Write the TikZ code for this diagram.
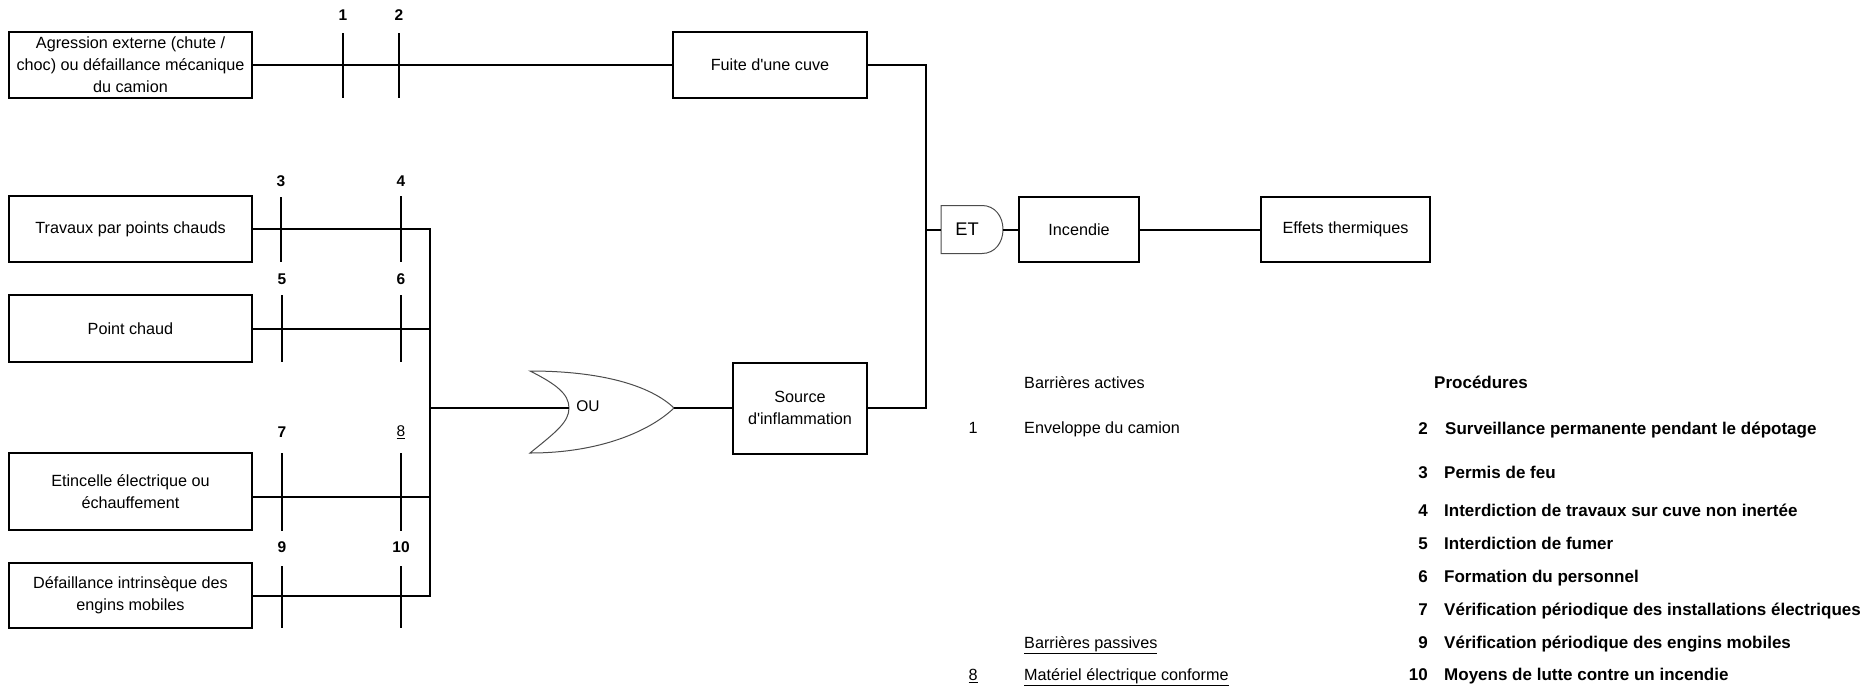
\documentclass[tikz,border=0pt]{standalone}
\usepackage{fontspec}
\setmainfont{Liberation Sans}[Ligatures=TeXOff]
\begin{document}
\begin{tikzpicture}[x=1pt,y=-1pt]
\tikzset{
 base/.style={font=\fontsize{16.2}{22}\selectfont, text=black},
 evbox/.style={base, draw, line width=2pt, rectangle, inner sep=0pt, align=center, fill=white},
 wire/.style={line width=2pt},
 tickline/.style={line width=2pt},
 gate/.style={draw=black!70, line width=1pt, fill=white},
 num/.style={font=\fontsize{15.5}{18}\bfseries\selectfont, inner sep=0pt},
 numr/.style={font=\fontsize{15.5}{18}\selectfont, inner sep=0pt},
 leg/.style={base, anchor=mid west, inner sep=0pt},
 legn/.style={base, anchor=mid, inner sep=0pt},
 legb/.style={font=\fontsize{17}{20}\bfseries\selectfont, anchor=mid west, inner sep=0pt},
 legbn/.style={font=\fontsize{17}{20}\bfseries\selectfont, anchor=mid east, inner sep=0pt},
}
\useasboundingbox (0,0) rectangle (1867,691);

% event boxes
\node[evbox, minimum width=243, minimum height=66] (agr) at (130.5,65) {Agression externe (chute /\\choc) ou défaillance mécanique\\du camion};
\node[evbox, minimum width=194, minimum height=66] (fuite) at (770,65) {Fuite d'une cuve};
\node[evbox, minimum width=243, minimum height=66] (trav) at (130.5,229) {Travaux par points chauds};
\node[evbox, minimum width=243, minimum height=67] (pc) at (130.5,328.5) {Point chaud};
\node[evbox, minimum width=243, minimum height=77] (etin) at (130.5,491.5) {Etincelle électrique ou\\échauffement};
\node[evbox, minimum width=243, minimum height=65] (def) at (130.5,595.5) {Défaillance intrinsèque des\\engins mobiles};
\node[evbox, minimum width=134, minimum height=91] (src) at (800,408) {Source\\d'inflammation};
\node[evbox, minimum width=120, minimum height=65] (inc) at (1079,229.5) {Incendie};
\node[evbox, minimum width=169, minimum height=65] (eff) at (1345.5,229.5) {Effets thermiques};

% gates
\path[gate] (530,371) .. controls (600,371) and (650,385) .. (674,408)
  .. controls (650,431) and (600,453) .. (530,453)
  .. controls (556,432) and (569,422) .. (569,408)
  .. controls (569,394) and (556,384) .. (530,371) -- cycle;
\coordinate (orIn) at (569,408);
\coordinate (orOut) at (674,408);
\node[font=\fontsize{15.5}{18}\selectfont, inner sep=0pt] (ou) at (588,406) {OU};

\path[gate] (941,205.5) -- (982,205.5) .. controls (995,205.5) and (1003,216.5) .. (1003,229.5)
  .. controls (1003,242.5) and (995,253.5) .. (982,253.5) -- (941,253.5) -- cycle;
\coordinate (andIn) at (941,229.5);
\coordinate (andOut) at (1003,229.5);
\node[font=\fontsize{18.3}{20}\selectfont, inner sep=0pt] (et) at (967,229) {ET};

\coordinate (orbus) at (430,408);
\coordinate (andbus) at (926,229.5);

% connectors
\draw[wire] (agr.east) -- (fuite.west);
\draw[wire] (fuite.east) -| (andbus) -- (andIn);
\draw[wire] (src.east) -| (andbus);
\draw[wire] (andOut) -- (inc.west);
\draw[wire] (inc.east) -- (eff.west);
\draw[wire] (orOut) -- (src.west);
\draw[wire] (trav.east) -| (orbus);
\draw[wire] (pc.east) -| (orbus);
\draw[wire] ([yshift=-5.5pt]etin.east) -| (orbus);
\draw[wire] (def.east) -| (orbus);
\draw[wire] (orbus) -- (orIn);

% barrier ticks
\draw[tickline] (343,33) -- (343,98);
\draw[tickline] (399,33) -- (399,98);
\draw[tickline] (281,197) -- (281,262);
\draw[tickline] (401,196) -- (401,262);
\draw[tickline] (282,295) -- (282,362);
\draw[tickline] (401,295) -- (401,362);
\draw[tickline] (282,453) -- (282,531);
\draw[tickline] (401,453) -- (401,531);
\draw[tickline] (282,566) -- (282,628);
\draw[tickline] (401,566) -- (401,628);

\node[num] (n1) at (343,15) {1};
\node[num] (n2) at (399,15) {2};
\node[num] (n3) at (281,181) {3};
\node[num] (n4) at (401,181) {4};
\node[num] (n5) at (282,279) {5};
\node[num] (n6) at (401,279) {6};
\node[num] (n7) at (282,432) {7};
\node[numr] (n8) at (401,432) {\underline{8}};
\node[num] (n9) at (282,547) {9};
\node[num] (n10) at (401,547) {10};

% legend
\node[leg] (la) at (1024,386) {Barrières actives};
\node[legn] (l1n) at (973,431) {1};
\node[leg] (l1) at (1024,431) {Enveloppe du camion};
\node[leg] (lp) at (1024,646) {\underline{Barrières passives}};
\node[legn] (l8n) at (973,678) {\underline{8}};
\node[leg] (l8) at (1024,678) {\underline{Matériel électrique conforme}};

\node[legb] (lproc) at (1434,386) {Procédures};
\node[legbn] (p2n) at (1428,432) {2};
\node[legb] (p2) at (1445,432) {Surveillance permanente pendant le dépotage};
\node[legbn] (p3n) at (1428,476) {3};
\node[legb] (p3) at (1444,476) {Permis de feu};
\node[legbn] (p4n) at (1428,514) {4};
\node[legb] (p4) at (1444,514) {Interdiction de travaux sur cuve non inertée};
\node[legbn] (p5n) at (1428,547) {5};
\node[legb] (p5) at (1444,547) {Interdiction de fumer};
\node[legbn] (p6n) at (1428,580) {6};
\node[legb] (p6) at (1444,580) {Formation du personnel};
\node[legbn] (p7n) at (1428,613) {7};
\node[legb] (p7) at (1444,613) {Vérification périodique des installations électriques};
\node[legbn] (p9n) at (1428,646) {9};
\node[legb] (p9) at (1444,646) {Vérification périodique des engins mobiles};
\node[legbn] (p10n) at (1428,678) {10};
\node[legb] (p10) at (1444,678) {Moyens de lutte contre un incendie};
\end{tikzpicture}
\end{document}
